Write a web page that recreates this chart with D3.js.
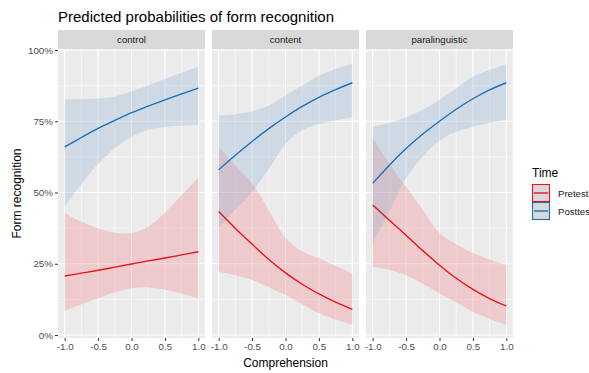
<!DOCTYPE html>
<html>
<head>
<meta charset="utf-8">
<script src="https://cdn.jsdelivr.net/npm/d3@7"></script>
<style>
  body { margin: 0; background: #fff; }
  svg { display: block; font-family: "Liberation Sans", Arial, sans-serif; }
</style>
</head>
<body>
<svg id="chart" width="589" height="373"></svg>
<script>
// Comprehension grid shared by every series
const comprehension = [-1, -0.75, -0.5, -0.25, 0, 0.25, 0.5, 0.75, 1];
const panels = ["control", "content", "paralinguistic"];
const times = ["Pretest", "Posttest"];

// Predicted probabilities (%) with confidence bands
const controlPre      = [20.7, 21.7, 22.7, 23.8, 24.9, 26.0, 27.0, 28.1, 29.2];
const controlPreLo    = [8.5, 10.8, 12.9, 15.0, 16.4, 16.7, 15.9, 14.5, 12.9];
const controlPreHi    = [42.7, 39.7, 37.4, 35.9, 35.7, 38.0, 43.0, 49.0, 55.3];
const controlPost     = [66.0, 69.3, 72.5, 75.3, 78.0, 80.3, 82.5, 84.6, 86.6];
const controlPostLo   = [45.0, 53.0, 60.0, 65.5, 69.5, 72.0, 73.0, 73.5, 73.7];
const controlPostHi   = [82.7, 82.8, 83.0, 83.7, 85.5, 87.5, 89.8, 92.0, 94.0];

const contentPre      = [43.3, 37.4, 31.9, 26.5, 21.8, 17.8, 14.4, 11.5, 9.0];
const contentPreLo    = [22.2, 21.0, 19.3, 16.8, 14.0, 10.8, 7.6, 5.4, 3.5];
const contentPreHi    = [66.0, 59.5, 53.2, 43.8, 34.0, 29.4, 26.9, 24.2, 21.6];
const contentPost     = [58.0, 63.1, 67.9, 72.4, 76.5, 80.2, 83.4, 86.1, 88.5];
const contentPostLo   = [37.5, 44.0, 50.3, 58.3, 67.0, 71.8, 74.0, 75.3, 76.3];
const contentPostHi   = [77.0, 77.5, 78.5, 80.5, 84.0, 87.5, 91.0, 93.3, 95.2];

const paraPre         = [45.6, 40.3, 35.0, 29.6, 24.5, 19.9, 16.0, 12.8, 10.2];
const paraPreLo       = [24.0, 22.8, 21.0, 18.0, 14.6, 11.4, 8.2, 5.7, 3.5];
const paraPreHi       = [69.0, 60.2, 52.0, 43.9, 35.9, 31.8, 28.7, 26.5, 24.6];
const paraPost        = [53.2, 59.6, 65.4, 70.5, 75.0, 79.2, 82.9, 86.0, 88.5];
const paraPostLo      = [32.2, 43.3, 55.0, 62.6, 68.2, 71.3, 73.1, 74.5, 75.4];
const paraPostHi      = [73.1, 74.5, 76.4, 79.0, 82.5, 86.5, 90.6, 93.0, 95.0];

const xTicks = [-1, -0.5, 0, 0.5, 1];
const xTickLabels = ["-1.0", "-0.5", "0.0", "0.5", "1.0"];
const yTicks = [0, 25, 50, 75, 100];
const yTickLabels = ["0%", "25%", "50%", "75%", "100%"];

const seriesByPanel = {
  control: {
    Pretest:  { fit: controlPre,  lo: controlPreLo,  hi: controlPreHi },
    Posttest: { fit: controlPost, lo: controlPostLo, hi: controlPostHi }
  },
  content: {
    Pretest:  { fit: contentPre,  lo: contentPreLo,  hi: contentPreHi },
    Posttest: { fit: contentPost, lo: contentPostLo, hi: contentPostHi }
  },
  paralinguistic: {
    Pretest:  { fit: paraPre,  lo: paraPreLo,  hi: paraPreHi },
    Posttest: { fit: paraPost, lo: paraPostLo, hi: paraPostHi }
  }
};

const lineColor = { Pretest: "#e8141b", Posttest: "#1b70b9" };
const bandColor = { Pretest: "#f08c90", Posttest: "#8fb0d3" };
const bandOpacity = { Pretest: 0.35, Posttest: 0.3 };

const svg = d3.select("#chart");

// layout
const panelTop = 49, panelBottom = 338, stripH = 19;
const panelW = 147, panelGap = 7, firstLeft = 58;

const y = d3.scaleLinear().domain([-1.05, 100.35]).range([panelBottom, panelTop]);

svg.append("text")
  .attr("x", 58).attr("y", 22)
  .attr("font-size", 15).attr("fill", "#000")
  .text("Predicted probabilities of form recognition");

panels.forEach((p, i) => {
  const left = firstLeft + i * (panelW + panelGap);
  const x = d3.scaleLinear().domain([-1.1, 1.1]).range([left, left + panelW]);
  const g = svg.append("g");

  // strip
  g.append("rect").attr("x", left).attr("y", panelTop - stripH)
    .attr("width", panelW).attr("height", stripH).attr("fill", "#d9d9d9");
  g.append("text").attr("x", left + panelW / 2).attr("y", panelTop - 6)
    .attr("text-anchor", "middle").attr("font-size", 9.6).attr("fill", "#1a1a1a")
    .text(p);

  // panel background
  g.append("rect").attr("x", left).attr("y", panelTop)
    .attr("width", panelW).attr("height", panelBottom - panelTop).attr("fill", "#ebebeb");

  // minor grid
  [12.5, 37.5, 62.5, 87.5].forEach(v => {
    g.append("line").attr("x1", left).attr("x2", left + panelW)
      .attr("y1", y(v)).attr("y2", y(v)).attr("stroke", "#fff").attr("stroke-width", 0.5);
  });
  [-0.75, -0.25, 0.25, 0.75].forEach(v => {
    g.append("line").attr("x1", x(v)).attr("x2", x(v))
      .attr("y1", panelTop).attr("y2", panelBottom).attr("stroke", "#fff").attr("stroke-width", 0.5);
  });
  // major grid
  yTicks.forEach(v => {
    g.append("line").attr("x1", left).attr("x2", left + panelW)
      .attr("y1", y(v)).attr("y2", y(v)).attr("stroke", "#fff").attr("stroke-width", 1.1);
  });
  xTicks.forEach(v => {
    g.append("line").attr("x1", x(v)).attr("x2", x(v))
      .attr("y1", panelTop).attr("y2", panelBottom).attr("stroke", "#fff").attr("stroke-width", 1.1);
  });

  const area = d3.area()
    .x((d, k) => x(comprehension[k]))
    .y0(d => y(d[0])).y1(d => y(d[1]))
    .curve(d3.curveCatmullRom);
  const line = d3.line()
    .x((d, k) => x(comprehension[k]))
    .y(d => y(d))
    .curve(d3.curveCatmullRom);

  times.forEach(t => {
    const s = seriesByPanel[p][t];
    const band = s.lo.map((v, k) => [v, s.hi[k]]);
    g.append("path").datum(band).attr("d", area)
      .attr("fill", bandColor[t]).attr("fill-opacity", bandOpacity[t]);
  });
  times.forEach(t => {
    const s = seriesByPanel[p][t];
    g.append("path").datum(s.fit).attr("d", line)
      .attr("fill", "none").attr("stroke", lineColor[t]).attr("stroke-width", 1.4);
  });

  // x axis
  const xAxis = d3.axisBottom(x).tickValues(xTicks)
    .tickFormat((d, k) => xTickLabels[k]).tickSize(3).tickPadding(2);
  const ax = svg.append("g").attr("transform", `translate(0,${panelBottom})`).call(xAxis);
  ax.select(".domain").remove();
  ax.selectAll("line").attr("stroke", "#333");
  ax.selectAll("text").attr("fill", "#4d4d4d").attr("font-size", 9.8)
    .attr("font-family", "Liberation Sans, Arial, sans-serif");
});

// y axis
const yAxis = d3.axisLeft(y).tickValues(yTicks)
  .tickFormat((d, k) => yTickLabels[k]).tickSize(3).tickPadding(2);
const ay = svg.append("g").attr("transform", `translate(${firstLeft},0)`).call(yAxis);
ay.select(".domain").remove();
ay.selectAll("line").attr("stroke", "#333");
ay.selectAll("text").attr("fill", "#4d4d4d").attr("font-size", 9.8)
  .attr("font-family", "Liberation Sans, Arial, sans-serif");

// axis titles
svg.append("text").attr("x", firstLeft + (3 * panelW + 2 * panelGap) / 2).attr("y", 367)
  .attr("text-anchor", "middle").attr("font-size", 12).attr("fill", "#000")
  .text("Comprehension");
svg.append("text")
  .attr("transform", `translate(21,${(panelTop + panelBottom) / 2}) rotate(-90)`)
  .attr("text-anchor", "middle").attr("font-size", 12).attr("fill", "#000")
  .text("Form recognition");

// legend
const lg = svg.append("g").attr("transform", "translate(532,0)");
lg.append("text").attr("x", 0).attr("y", 177).attr("font-size", 12).attr("fill", "#000").text("Time");
times.forEach((t, k) => {
  const ty = 184 + k * 18;
  lg.append("rect").attr("x", 0.5).attr("y", ty + 0.5).attr("width", 17).attr("height", 17)
    .attr("fill", "#d9d9d9").attr("stroke", lineColor[t]).attr("stroke-width", 1.1);
  lg.append("line").attr("x1", 2).attr("x2", 16).attr("y1", ty + 9).attr("y2", ty + 9)
    .attr("stroke", lineColor[t]).attr("stroke-width", 1.4);
  lg.append("text").attr("x", 26).attr("y", ty + 12.5).attr("font-size", 9.6)
    .attr("fill", "#1a1a1a").text(t);
});
</script>
</body>
</html>
